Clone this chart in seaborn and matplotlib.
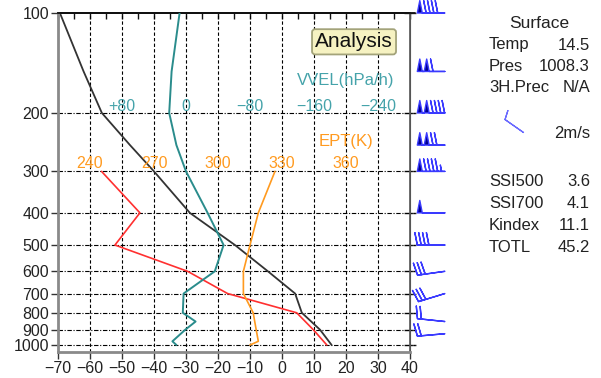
import matplotlib
matplotlib.use("Agg")
import matplotlib.pyplot as plt
from matplotlib.ticker import NullLocator
import numpy as np
import seaborn as sns

# ---- sounding data ----
# temperature (deg C)
p_temp = [100, 150, 200, 250, 300, 400, 500, 600, 700, 800, 900, 1000]
temp = [-69.4, -62.0, -56.3, -47.5, -40.0, -28.8, -14.7, -4.4, 4.1, 6.2, 11.9, 15.5]
# dew point (deg C)
p_dew = [300, 400, 500, 600, 700, 800, 900, 1000]
dewp = [-56.4, -44.4, -52.2, -29.5, -17.0, 4.6, 9.8, 14.0]
# vertical velocity (hPa/h)
p_vvel = [100, 150, 200, 250, 300, 400, 500, 600, 700, 800, 850, 900, 975, 1000]
vvel = [8, 18, 21, 12, 0, -27, -47, -36, 3, 4, -12, 1, 17, 12]
# equivalent potential temperature (K)
p_ept = [300, 400, 500, 600, 700, 800, 900, 975, 1000]
ept = [326.7, 318.9, 315.0, 311.9, 311.9, 316.5, 317.9, 318.9, 315.0]
# upper winds
wind_p = [100, 150, 200, 250, 300, 400, 500, 600, 700, 850, 925]
wind_spd = [90, 110, 140, 120, 95, 50, 40, 30, 30, 20, 20]
wind_dir = [270, 270, 270, 270, 270, 270, 270, 262, 253, 276, 265]
# surface wind
sfc_spd, sfc_dir = 10, 305

p_levels = [100, 200, 300, 400, 500, 600, 700, 800, 900, 1000]
t_ticks = list(range(-70, 41, 10))
vvel_ticks = [80, 0, -80, -160, -240]
vvel_labels = ['+80', '0', '\u221280', '\u2212160', '\u2212240']
ept_ticks = [240, 270, 300, 330, 360]

sfc_rows = [('Temp', '14.5'), ('Pres', '1008.3'), ('3H.Prec', 'N/A')]
idx_rows = [('SSI500', '3.6'), ('SSI700', '4.1'), ('Kindex', '11.1'), ('TOTL', '45.2')]

sns.set_style('ticks')
plt.rcParams['font.family'] = ['Liberation Sans', 'DejaVu Sans']

W, H = 601, 378
fig = plt.figure(figsize=(W / 100, H / 100), dpi=100)
ax = fig.add_axes([58 / W, 1 - 352 / H, 352 / W, 339 / H])
ax.set_yscale('log')

txt = '#222222'
teal, teal_txt = '#2a8c8c', '#45a3aa'
orange = '#ff9a1f'

# grid
for x in t_ticks[1:-1]:
    ax.axvline(x, color='k', lw=0.8, ls=(0, (3, 2)), zorder=1)
for p in p_levels[1:]:
    ax.axhline(p, xmax=1.015, clip_on=False, color='k', lw=0.8,
               ls=(0, (4, 1.5, 1, 1.5)), zorder=1)
ax.axhline(100, xmax=1.015, clip_on=False, color='#111111', lw=1.3, zorder=1)

sns.lineplot(x=temp, y=p_temp, sort=False, estimator=None, color='#333333', lw=1.3, ax=ax)
sns.lineplot(x=dewp, y=p_dew, sort=False, estimator=None, color='#ff3030', lw=1.2, ax=ax)

# VVEL and EPT share the pressure axis, each with its own x scale
ax_v = ax.twiny()
sns.lineplot(x=vvel, y=p_vvel, sort=False, estimator=None, color=teal, lw=1.4, ax=ax_v)
ax_v.set_xlim(160, -280)
ax_v.axis('off')
for t, lab in zip(vvel_ticks, vvel_labels):
    ax_v.annotate(lab, (t, 200), xytext=(0, 1.5), textcoords='offset points',
                  ha='center', va='baseline', color=teal_txt, fontsize=11.5)

ax_e = ax.twiny()
sns.lineplot(x=ept, y=p_ept, sort=False, estimator=None, color=orange, lw=1.2, ax=ax_e)
ax_e.set_xlim(225, 390)
ax_e.axis('off')
for t in ept_ticks:
    ax_e.annotate(str(t), (t, 300), xytext=(0, 2.5), textcoords='offset points',
                  ha='center', va='baseline', color=orange, fontsize=11.5)

ax.text(0.818, 0.802, 'VVEL(hPa/h)', transform=ax.transAxes, ha='center', va='center',
        color=teal_txt, fontsize=12)
ax.text(0.818, 0.622, 'EPT(K)', transform=ax.transAxes, ha='center', va='center',
        color=orange, fontsize=12)
ax.text(0.841, 0.915, 'Analysis', transform=ax.transAxes, ha='center', va='center',
        color='#111111', fontsize=15, zorder=6,
        bbox=dict(boxstyle='round,pad=0.15', fc='#f6f2c2', ec='#a3a37a', lw=1.3))

# wind barbs to the right of the frame
rad = np.deg2rad(wind_dir)
u = -np.array(wind_spd) * np.sin(rad)
v = -np.array(wind_spd) * np.cos(rad)
ax.barbs(np.full(len(wind_p), 50.9), wind_p, u, v, length=6.3, clip_on=False,
         barbcolor='#3a3aff', flagcolor='#00008a', lw=1.0, zorder=5,
         sizes=dict(spacing=0.14, height=0.45, width=0.18))

srad = np.deg2rad(sfc_dir)
ax.barbs([523 / W], [1 - 132 / H], [-sfc_spd * np.sin(srad)], [-sfc_spd * np.cos(srad)],
         transform=fig.transFigure, length=5.7, clip_on=False, barbcolor='#6a6aff', lw=0.9)

ax.set_xlim(-70, 40)
ax.set_ylim(1050, 100)
ax.set_xticks(t_ticks)
ax.set_yticks(p_levels)
ax.set_yticklabels([str(p) for p in p_levels])
ax.yaxis.set_minor_locator(NullLocator())
ax.tick_params(axis='both', direction='out', length=5, width=1, color='#333333',
               labelcolor=txt, labelsize=11.5, pad=1.5)

for side, col, lw in [('left', '#8a8a8a', 2.0), ('bottom', '#8a8a8a', 2.0),
                      ('top', '#111111', 1.3), ('right', '#555555', 1.2)]:
    ax.spines[side].set_color(col)
    ax.spines[side].set_linewidth(lw)

secx = ax.secondary_xaxis('top')
secx.set_xticks(np.arange(-70, 41, 5))
secx.tick_params(direction='in', length=4, width=1, color='#111111', labeltop=False)
secx.spines['top'].set_color('#111111')
secx.spines['top'].set_linewidth(1.3)

secy = ax.secondary_yaxis('right')
secy.set_yticks(p_levels)
secy.yaxis.set_minor_locator(NullLocator())
secy.tick_params(direction='inout', length=8, width=1, color='#333333', labelright=False)
secy.spines['right'].set_color('#555555')

# surface / stability panel
fig.text(539 / W, 1 - 24 / H, 'Surface', ha='center', va='center', fontsize=12.5, color=txt)
for i, (lab, val) in enumerate(sfc_rows):
    y = 1 - (45 + 21.5 * i) / H
    fig.text(489 / W, y, lab, ha='left', va='center', fontsize=12, color=txt)
    fig.text(590 / W, y, val, ha='right', va='center', fontsize=12, color=txt)
fig.text(590 / W, 1 - 134 / H, '2m/s', ha='right', va='center', fontsize=12, color=txt)
for i, (lab, val) in enumerate(idx_rows):
    y = 1 - (181 + 22.3 * i) / H
    fig.text(489 / W, y, lab, ha='left', va='center', fontsize=12, color=txt)
    fig.text(590 / W, y, val, ha='right', va='center', fontsize=12, color=txt)

fig.savefig('out.png', dpi=100)
